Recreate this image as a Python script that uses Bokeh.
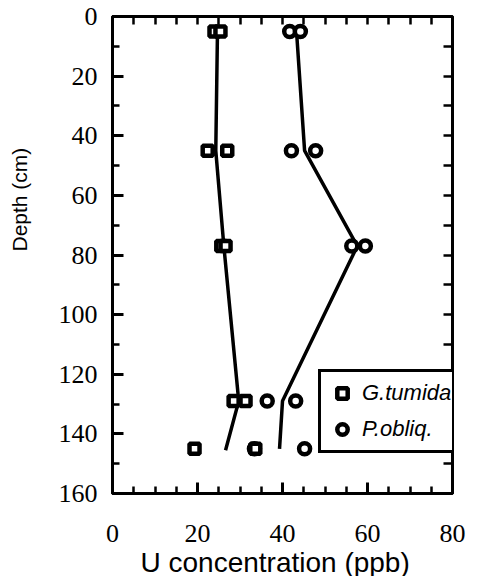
from bokeh.plotting import figure
from bokeh.models import (Range1d, LinearAxis, FixedTicker, Legend, LegendItem, Title)
from bokeh.embed import file_html
from bokeh.resources import INLINE

# ---- data ----
gt_depth = [5, 5, 45, 45, 77, 77, 129, 129, 145, 145]
gt_u = [24.0, 25.4, 22.4, 27.0, 25.6, 26.6, 28.5, 31.3, 19.3, 33.6]
po_depth = [5, 5, 45, 45, 77, 77, 129, 129, 145, 145]
po_u = [41.7, 44.2, 42.1, 47.8, 56.3, 59.5, 36.4, 43.1, 33.4, 45.2]
gt_line_depth = [5, 45, 77, 129, 145.5]
gt_line_u = [24.7, 24.3, 26.2, 29.7, 26.6]
po_line_depth = [5, 45, 77, 129, 145]
po_line_u = [43.3, 45.2, 57.6, 40.0, 39.3]
x_major = [0, 20, 40, 60, 80]
x_minor = [5, 10, 15, 25, 30, 35, 45, 50, 55, 65, 70, 75]
x_all = [5, 10, 15, 20, 25, 30, 35, 40, 45, 50, 55, 60, 65, 70, 75]
y_major = [0, 20, 40, 60, 80, 100, 120, 140, 160]
y_minor = [10, 30, 50, 70, 90, 110, 130, 150]
y_all = [10, 20, 30, 40, 50, 60, 70, 80, 90, 100, 110, 120, 130, 140, 150]
labels = ["G.tumida", "P.obliq."]

p = figure(frame_width=340, frame_height=477, x_range=Range1d(0, 80), y_range=Range1d(160, 0),
           output_backend="svg", toolbar_location=None,
           min_border_left=112, min_border_right=45, min_border_top=16, min_border_bottom=0)
p.grid.visible = False
p.outline_line_color = "black"
p.outline_line_width = 3
p.background_fill_color = "white"
p.border_fill_color = "white"

def style_axis(ax, major, minor, standoff, maj_len=11, min_len=7):
    ax.ticker = FixedTicker(ticks=major, minor_ticks=minor)
    ax.major_tick_in = maj_len
    ax.major_tick_out = 0
    ax.minor_tick_in = min_len
    ax.minor_tick_out = 0
    ax.axis_line_width = 3
    ax.axis_line_color = "black"
    ax.major_tick_line_width = 3
    ax.minor_tick_line_width = 2.5
    ax.major_tick_line_color = "black"
    ax.minor_tick_line_color = "black"
    ax.major_label_text_font = "Liberation Serif"
    ax.major_label_text_font_size = "26px"
    ax.major_label_text_color = "black"
    ax.major_label_standoff = standoff

style_axis(p.xaxis[0], x_major, x_minor, 31)
style_axis(p.yaxis[0], y_major, y_minor, 15)
top = LinearAxis()
style_axis(top, [], x_all, 0, min_len=8)
right = LinearAxis()
style_axis(right, [], y_all, 0, min_len=9)
p.add_layout(top, "above")
p.add_layout(right, "right")

p.line(gt_line_u, gt_line_depth, line_color="black", line_width=3.5)
p.line(po_line_u, po_line_depth, line_color="black", line_width=3.5)
ci = p.scatter(po_u, po_depth, marker="circle", size=11, fill_color="white",
               line_color="black", line_width=4.5)
sq = p.scatter(gt_u, gt_depth, marker="square", size=10, fill_color="white",
               line_color="black", line_width=4.5)

legend = Legend(items=[LegendItem(label=labels[0], renderers=[sq]),
                       LegendItem(label=labels[1], renderers=[ci])],
                location=(206, 40))
legend.label_text_font = "Liberation Sans"
legend.label_text_font_style = "italic"
legend.label_text_font_size = "22px"
legend.label_text_color = "black"
legend.border_line_color = "black"
legend.border_line_alpha = 1
legend.border_line_width = 3
legend.background_fill_color = "white"
legend.background_fill_alpha = 1
legend.padding = 8
legend.margin = 0
legend.glyph_width = 26
legend.glyph_height = 26
legend.label_height = 26
legend.label_width = 60
legend.label_standoff = 7
legend.spacing = 10
p.add_layout(legend, "center")

xt = Title(text="U concentration (ppb)", align="left", offset=28, standoff=0,
           text_font="Liberation Sans", text_font_size="28px", text_font_style="normal",
           text_color="black")
yt = Title(text="Depth (cm)", align="left", offset=220, standoff=2, vertical_align="top",
           padding=(22, 0, 0, 0),
           text_font="Liberation Sans", text_font_size="21px", text_font_style="normal",
           text_color="black")
p.add_layout(xt, "below")
p.add_layout(yt, "left")

open("out.html", "w").write(file_html(p, INLINE))
